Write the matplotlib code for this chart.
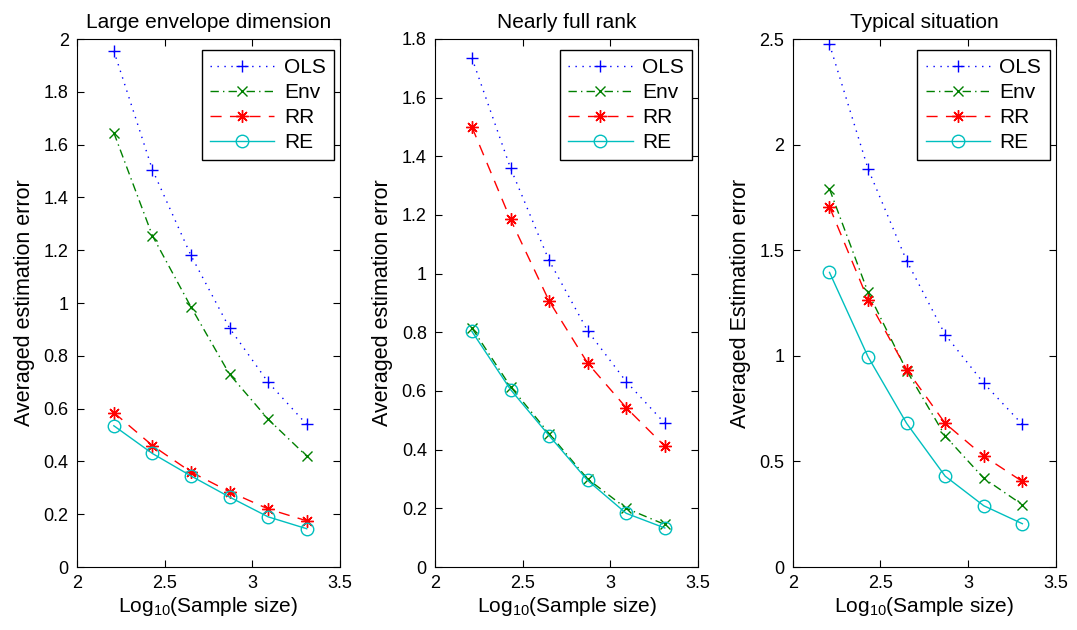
import matplotlib
matplotlib.use('Agg')
import matplotlib.pyplot as plt
import numpy as np

plt.rcParams['font.family'] = ['Liberation Sans', 'DejaVu Sans']
plt.rcParams['mathtext.fontset'] = 'custom'
plt.rcParams['mathtext.rm'] = 'Liberation Sans'
plt.rcParams['mathtext.it'] = 'Liberation Sans'

############################
# data
############################

logn = [2.21, 2.43, 2.65, 2.87, 3.09, 3.31]

titles = ['Large envelope dimension', 'Nearly full rank', 'Typical situation']
ylabels = ['Averaged estimation error', 'Averaged estimation error',
           'Averaged Estimation error']
ylims = [2.0, 1.8, 2.5]
yticks = [np.arange(0, 2.01, 0.2), np.arange(0, 1.81, 0.2), np.arange(0, 2.51, 0.5)]
ytlabels = [['0', '0.2', '0.4', '0.6', '0.8', '1', '1.2', '1.4', '1.6', '1.8', '2'],
            ['0', '0.2', '0.4', '0.6', '0.8', '1', '1.2', '1.4', '1.6', '1.8'],
            ['0', '0.5', '1', '1.5', '2', '2.5']]

ols1 = [1.955, 1.505, 1.18, 0.905, 0.70, 0.54]
env1 = [1.645, 1.255, 0.985, 0.73, 0.56, 0.42]
rr1 = [0.585, 0.46, 0.36, 0.285, 0.22, 0.175]
re1 = [0.535, 0.43, 0.345, 0.265, 0.19, 0.145]

ols2 = [1.735, 1.36, 1.045, 0.805, 0.632, 0.49]
env2 = [0.815, 0.615, 0.455, 0.30, 0.20, 0.145]
rr2 = [1.50, 1.185, 0.907, 0.695, 0.543, 0.412]
re2 = [0.803, 0.605, 0.448, 0.295, 0.183, 0.133]

ols3 = [2.475, 1.885, 1.45, 1.10, 0.87, 0.675]
env3 = [1.79, 1.30, 0.93, 0.62, 0.42, 0.295]
rr3 = [1.705, 1.265, 0.935, 0.68, 0.525, 0.405]
re3 = [1.395, 0.995, 0.68, 0.43, 0.29, 0.205]

data = [(ols1, env1, rr1, re1), (ols2, env2, rr2, re2), (ols3, env3, rr3, re3)]

############################

fig = plt.figure(figsize=(10.77, 6.3), dpi=100)
lefts = [0.0715, 0.404, 0.736]
# axes box: 263 x 528 px
aw = 263/1077.
ah = 528/630.

for k in range(3):
   ax = fig.add_axes([lefts[k], 0.1, aw, ah])
   ols, env, rr, re = data[k]
   ax.plot(logn, ols, color='b', marker='+', ms=9, mew=1, lw=1, dashes=(1, 4), label='OLS')
   ax.plot(logn, env, color=(0, 0.5, 0), marker='x', ms=7, mew=1, lw=1,
           dashes=(6, 3, 1, 3), label='Env')
   ax.plot(logn, rr, color='r', marker=(8, 2, 0), ms=9, mew=1, lw=1, dashes=(8, 6), label='RR')
   ax.plot(logn, re, '-', color=(0, 0.75, 0.75), marker='o', ms=9, mfc='none', mew=1, lw=1, label='RE')

   ax.set_xlim(2, 3.5)
   ax.set_ylim(0, ylims[k])
   ax.set_xticks([2, 2.5, 3, 3.5])
   ax.set_xticklabels(['2', '2.5', '3', '3.5'])
   ax.set_yticks(yticks[k])
   ax.set_yticklabels(ytlabels[k])
   ax.tick_params(direction='in', top=True, right=True, labelsize=13, length=5, pad=6)
   ax.set_title(titles[k], fontsize=15, pad=8)
   ax.set_xlabel('Log$_{10}$(Sample size)', fontsize=15, labelpad=2)
   ax.set_ylabel(ylabels[k], fontsize=15.5, labelpad=6)

   leg = ax.legend(loc='upper right', bbox_to_anchor=(1 - 6/263., 1 - 11/528.),
                   borderaxespad=0, fontsize=15, fancybox=False, edgecolor='k',
                   handlelength=3.1, labelspacing=0.28, handletextpad=0.45,
                   borderpad=0.4, framealpha=1)
   leg.get_frame().set_linewidth(1)

plt.savefig('out.png', dpi=100)
